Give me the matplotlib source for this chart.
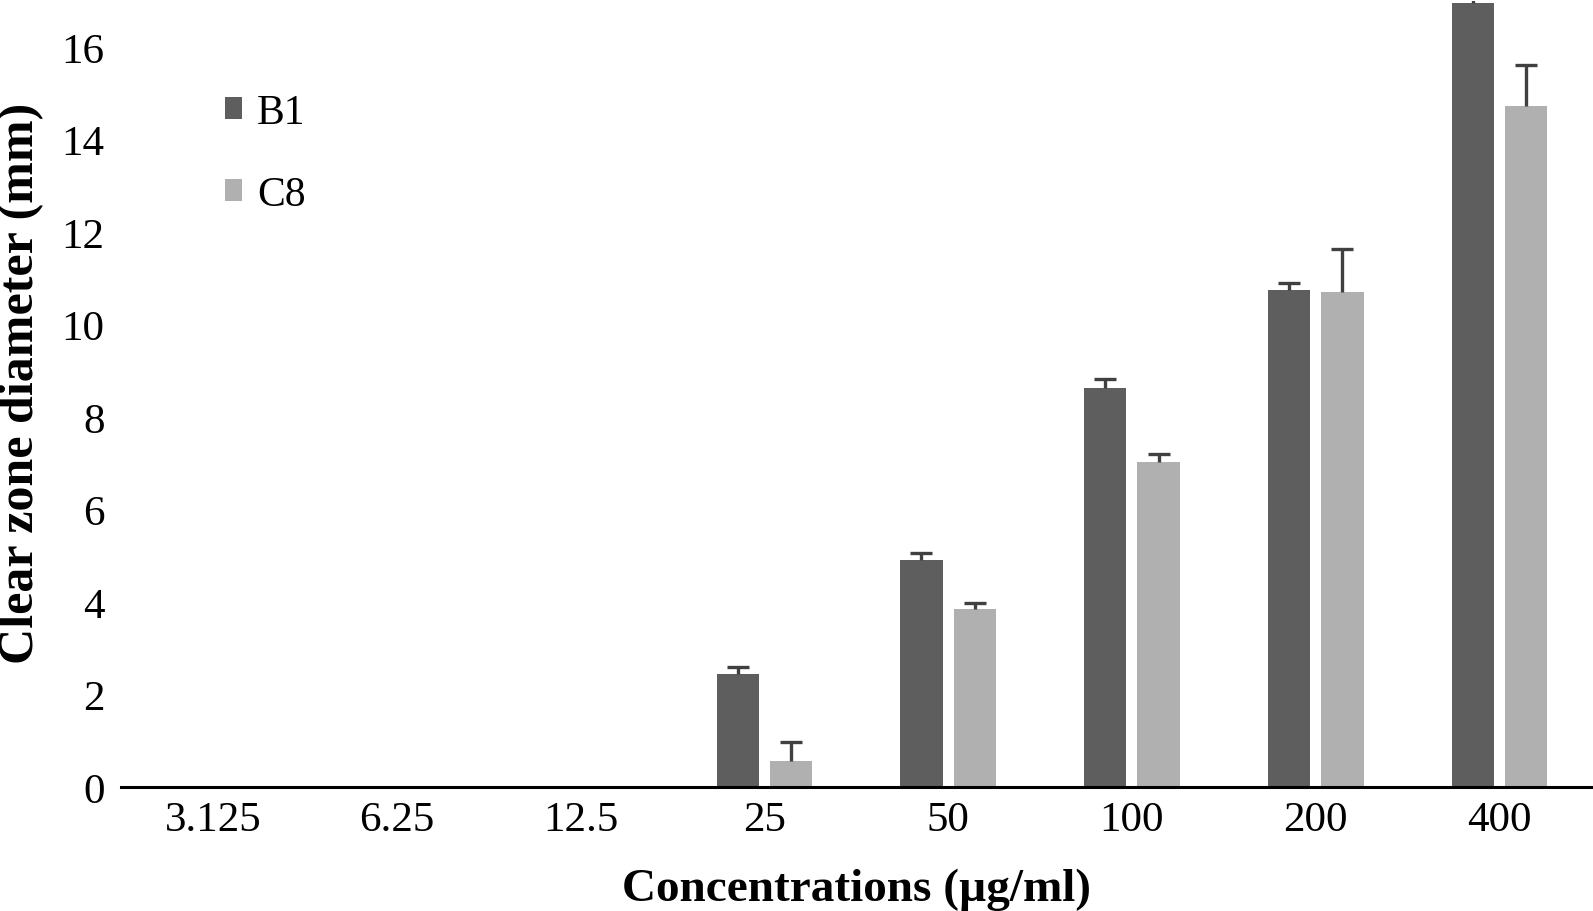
import matplotlib
matplotlib.use("Agg")
import matplotlib.pyplot as plt
import numpy as np

categories = ["3.125", "6.25", "12.5", "25", "50", "100", "200", "400"]
b1_values = [0, 0, 0, 2.44, 4.90, 8.62, 10.75, 16.95]
b1_errors = [0, 0, 0, 0.15, 0.15, 0.20, 0.15, 0.12]
c8_values = [0, 0, 0, 0.57, 3.85, 7.03, 10.70, 14.73]
c8_errors = [0, 0, 0, 0.40, 0.13, 0.16, 0.93, 0.88]
yticks = [0, 2, 4, 6, 8, 10, 12, 14, 16]

plt.rcParams['font.family'] = ['Liberation Serif', 'DejaVu Serif']

fig = plt.figure(figsize=(15.93, 9.12), dpi=100)
ax = fig.add_axes([0.076, 0.136, 0.923, 0.862])

x = np.arange(len(categories))
w = 0.23
off = 0.145

ax.bar(x - off, b1_values, w, color='#5e5e5e', label='B1', zorder=2)
ax.bar(x + off, c8_values, w, color='#b0b0b0', label='C8', zorder=2)


def upper_errors(xpos, vals, errs):
    vals = np.array(vals)
    errs = np.array(errs)
    m = vals > 0
    eb = ax.errorbar(xpos[m], vals[m], yerr=[np.zeros(m.sum()), errs[m]],
                     fmt='none', ecolor='#404040', elinewidth=2.4,
                     capsize=8, capthick=2.4, zorder=3)
    caps = eb.lines[1]
    if len(caps) == 2:
        caps[0].set_visible(False)


upper_errors(x - off, b1_values, b1_errors)
upper_errors(x + off, c8_values, c8_errors)

ax.set_xlim(-0.5, len(categories) - 0.5)
ax.set_ylim(0, 17)
ax.set_yticks(yticks)
ax.set_xticks(x)
ax.set_xticklabels(categories)
ax.tick_params(axis='both', length=0, labelsize=31)
ax.tick_params(axis='x', pad=10)
ax.tick_params(axis='y', pad=12)

for s in ['top', 'right', 'left']:
    ax.spines[s].set_visible(False)
ax.spines['bottom'].set_linewidth(2.2)
ax.spines['bottom'].set_color('black')
ax.spines['bottom'].set_zorder(4)

ax.set_xlabel('Concentrations (µg/ml)', fontsize=34, fontweight='bold', labelpad=20)
ax.set_ylabel('Clear zone diameter (mm)', fontsize=36, fontweight='bold', labelpad=10)
ax.yaxis.set_label_coords(-0.052, 0.515)

leg = ax.legend(loc='upper left', bbox_to_anchor=(0.045, 0.93), frameon=False,
                fontsize=30, handlelength=0.42, handleheight=0.42, handletextpad=0.35,
                labelspacing=1.05)

fig.savefig('out.png', dpi=100)
